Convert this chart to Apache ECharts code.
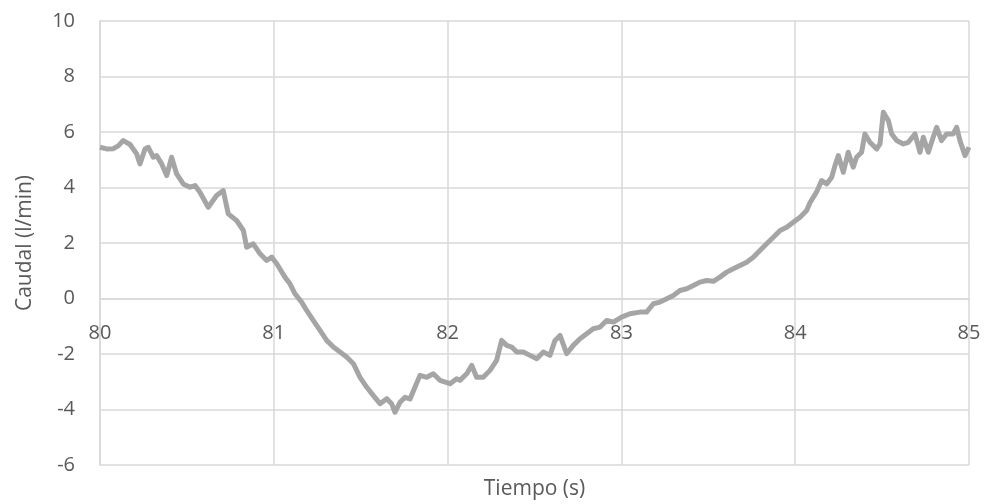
<!DOCTYPE html>
<html>
<head>
<meta charset="utf-8">
<script src="https://cdn.jsdelivr.net/npm/echarts@6/dist/echarts.min.js"></script>
<style>
  html, body { margin: 0; padding: 0; background: #ffffff; }
  #chart { width: 986px; height: 504px; }
</style>
</head>
<body>
<div id="chart"></div>
<script>
// Flow rate trace, time in seconds
const tiempo = [
  80.000, 80.038, 80.077, 80.105, 80.134, 80.173, 80.211, 80.230, 80.259, 80.278,
  80.307, 80.326, 80.355, 80.384, 80.412, 80.441, 80.479, 80.518, 80.547, 80.575,
  80.623, 80.671, 80.709, 80.738, 80.786, 80.825, 80.844, 80.882, 80.921, 80.959,
  80.988, 81.017, 81.064, 81.093, 81.122, 81.160, 81.189, 81.227, 81.266, 81.304,
  81.343, 81.381, 81.419, 81.458, 81.496, 81.535, 81.573, 81.611, 81.650, 81.678,
  81.697, 81.726, 81.755, 81.784, 81.812, 81.841, 81.880, 81.918, 81.956, 82.014,
  82.052, 82.071, 82.110, 82.139, 82.167, 82.205, 82.244, 82.282, 82.311, 82.340,
  82.369, 82.398, 82.436, 82.474, 82.513, 82.551, 82.589, 82.618, 82.647, 82.685,
  82.723, 82.762, 82.800, 82.838, 82.877, 82.915, 82.954, 83.001, 83.049, 83.107,
  83.145, 83.184, 83.222, 83.261, 83.299, 83.337, 83.376, 83.414, 83.452, 83.491,
  83.529, 83.567, 83.606, 83.644, 83.682, 83.721, 83.759, 83.797, 83.836, 83.874,
  83.913, 83.951, 83.989, 84.028, 84.066, 84.085, 84.124, 84.152, 84.181, 84.210,
  84.229, 84.248, 84.277, 84.305, 84.334, 84.353, 84.382, 84.401, 84.430, 84.469,
  84.488, 84.507, 84.536, 84.555, 84.584, 84.622, 84.651, 84.689, 84.718, 84.737,
  84.766, 84.794, 84.814, 84.842, 84.871, 84.909, 84.929, 84.948, 84.977, 85.000
];
// Caudal in l/min
const caudal = [
  5.45, 5.39, 5.40, 5.50, 5.69, 5.55, 5.21, 4.85, 5.39, 5.45,
  5.09, 5.15, 4.85, 4.43, 5.09, 4.49, 4.13, 4.01, 4.07, 3.83,
  3.29, 3.71, 3.89, 3.05, 2.81, 2.45, 1.85, 1.97, 1.61, 1.37,
  1.49, 1.25, 0.77, 0.53, 0.17, -0.13, -0.43, -0.79, -1.15, -1.51,
  -1.75, -1.93, -2.11, -2.35, -2.84, -3.20, -3.50, -3.79, -3.61, -3.79,
  -4.10, -3.74, -3.56, -3.62, -3.20, -2.77, -2.84, -2.71, -2.95, -3.07,
  -2.89, -2.95, -2.71, -2.41, -2.84, -2.84, -2.59, -2.23, -1.51, -1.69,
  -1.75, -1.93, -1.93, -2.05, -2.17, -1.93, -2.05, -1.51, -1.33, -1.99,
  -1.69, -1.45, -1.27, -1.09, -1.03, -0.79, -0.85, -0.67, -0.55, -0.49,
  -0.49, -0.19, -0.13, -0.01, 0.11, 0.29, 0.35, 0.47, 0.59, 0.65,
  0.62, 0.77, 0.95, 1.07, 1.19, 1.31, 1.49, 1.73, 1.97, 2.21,
  2.45, 2.57, 2.75, 2.93, 3.17, 3.45, 3.85, 4.25, 4.13, 4.37,
  4.79, 5.15, 4.55, 5.27, 4.73, 5.09, 5.27, 5.93, 5.63, 5.39,
  5.57, 6.71, 6.41, 5.93, 5.69, 5.57, 5.63, 5.93, 5.27, 5.81,
  5.27, 5.81, 6.17, 5.69, 5.93, 5.93, 6.17, 5.69, 5.15, 5.45
];

const xTicks = { min: 80, max: 85, step: 1 };
const yTicks = { min: -6, max: 10, step: 2 };

const serie = tiempo.map((t, i) => [t, caudal[i]]);

const textColor = '#595959';
const gridColor = '#d9d9d9';
const fontFamily = '"Open Sans", "Liberation Sans", sans-serif';

// Plot box geometry, used to lift the time axis onto the zero line
const gridTop = 21;
const gridBottom = 39;
const chartHeight = 504;
const plotHeight = chartHeight - gridTop - gridBottom;
const zeroShift = plotHeight * (0 - yTicks.min) / (yTicks.max - yTicks.min);

const chart = echarts.init(document.getElementById('chart'), null, { renderer: 'canvas' });
chart.setOption({
  animation: false,
  backgroundColor: '#ffffff',
  grid: { left: 100, right: 17, top: gridTop, bottom: gridBottom, containLabel: false, outerBoundsMode: 'none' },
  xAxis: {
    type: 'value',
    position: 'bottom',
    offset: -zeroShift,
    min: xTicks.min,
    max: xTicks.max,
    interval: xTicks.step,
    name: 'Tiempo (s)',
    nameLocation: 'middle',
    nameGap: 180,
    nameTextStyle: { color: textColor, fontSize: 21, fontFamily: fontFamily },
    axisLine: { show: true, onZero: false, lineStyle: { color: gridColor, width: 1.5 } },
    axisTick: { show: false },
    axisLabel: { color: textColor, fontSize: 20, fontFamily: fontFamily, margin: 25 },
    splitLine: { show: true, lineStyle: { color: gridColor, width: 1.5 } }
  },
  yAxis: {
    type: 'value',
    min: yTicks.min,
    max: yTicks.max,
    interval: yTicks.step,
    name: 'Caudal (l/min)',
    nameLocation: 'middle',
    nameGap: 64,
    nameTextStyle: { color: textColor, fontSize: 21, fontFamily: fontFamily },
    axisLine: { show: true, lineStyle: { color: gridColor, width: 1.5 } },
    axisTick: { show: false },
    axisLabel: { color: textColor, fontSize: 20, fontFamily: fontFamily, margin: 25 },
    splitLine: { show: true, lineStyle: { color: gridColor, width: 1.5 } }
  },
  series: [{
    type: 'line',
    data: serie,
    showSymbol: false,
    smooth: false,
    lineStyle: { color: '#a5a5a5', width: 5, join: 'round' },
    itemStyle: { color: '#a5a5a5' }
  }]
});
</script>
</body>
</html>
